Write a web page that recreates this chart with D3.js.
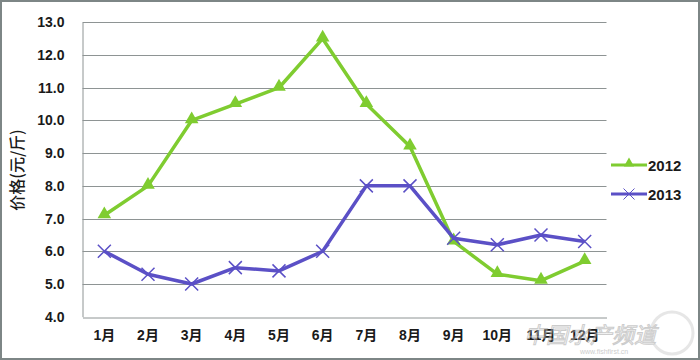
<!DOCTYPE html>
<html><head><meta charset="utf-8">
<script src="https://cdn.jsdelivr.net/npm/d3@7/dist/d3.min.js"></script>
<style>body{margin:0;background:#fff;}svg{display:block;}</style>
</head><body>
<svg id="c" width="700" height="360"></svg>
<script>
const months = ["1月","2月","3月","4月","5月","6月","7月","8月","9月","10月","11月","12月"];
const values2012 = [7.1, 8.0, 10.0, 10.5, 11.0, 12.5, 10.5, 9.2, 6.3, 5.3, 5.1, 5.7];
const values2013 = [6.0, 5.3, 5.0, 5.5, 5.4, 6.0, 8.0, 8.0, 6.4, 6.2, 6.5, 6.3];
const yTicks = [4, 5, 6, 7, 8, 9, 10, 11, 12, 13];
const seriesNames = ["2012", "2013"];
const yTitle = "价格(元/斤)";

const svg = d3.select("#c");
const W = 700, H = 360;
const pLeft = 82.5, pRight = 606.5, pTop = 22.3, pBottom = 316.7;
const font = "'Liberation Sans', Arial, 'Noto Sans CJK SC', sans-serif";

svg.append("rect").attr("x",1).attr("y",1).attr("width",W-2).attr("height",H-2)
  .attr("fill","#fff").attr("stroke","#7d8686").attr("stroke-width",2);

const x = d3.scaleBand().domain(months).range([pLeft, pRight]);
const y = d3.scaleLinear().domain([4, 13]).range([pBottom, pTop]);

// gridlines
svg.append("g").selectAll("line").data(yTicks.filter(d => d > 4)).join("line")
  .attr("x1", pLeft).attr("x2", pRight)
  .attr("y1", d => Math.round(y(d)) + 0.5).attr("y2", d => Math.round(y(d)) + 0.5)
  .attr("stroke", "#8e9494").attr("stroke-width", 1);

// axes
const yAxis = svg.append("g").attr("transform", `translate(${pLeft},0)`)
  .call(d3.axisLeft(y).tickValues(yTicks).tickFormat(d3.format(".1f")).tickSize(0).tickPadding(18));
yAxis.select(".domain").attr("stroke", "#8e9494");
yAxis.selectAll("text").attr("font-family", font).attr("font-size", 14).attr("font-weight", "bold").attr("fill", "#1a1a1a");

const xAxis = svg.append("g").attr("transform", `translate(0,${Math.round(pBottom)+0.5})`)
  .call(d3.axisBottom(x).tickSize(0).tickPadding(13));
xAxis.select(".domain").attr("stroke", "#8e9494");
xAxis.selectAll("text").attr("font-family", font).attr("font-size", 14).attr("font-weight", "bold").attr("fill", "#1a1a1a");

svg.append("text").attr("transform", `translate(23,170) rotate(-90)`)
  .attr("text-anchor", "middle").attr("font-family", "'Noto Sans CJK SC', sans-serif")
  .attr("font-size", 16).attr("font-weight", 500).attr("fill", "#1a1a1a").text(yTitle);

const cx = (d, i) => x(months[i]) + x.bandwidth() / 2;
const line = d3.line().x(cx).y(d => y(d));

const green = "#7fcc30", purple = "#5b50c6";

svg.append("path").datum(values2012).attr("d", line).attr("fill", "none")
  .attr("stroke", green).attr("stroke-width", 3.5).attr("stroke-linejoin", "round");
const tri = d3.symbol().type(d3.symbolTriangle).size(80);
svg.append("g").selectAll("path").data(values2012).join("path")
  .attr("d", tri).attr("fill", green)
  .attr("transform", (d, i) => `translate(${cx(d, i)},${y(d) - 1})`);

svg.append("path").datum(values2013).attr("d", line).attr("fill", "none")
  .attr("stroke", purple).attr("stroke-width", 3.5).attr("stroke-linejoin", "round");
const xg = svg.append("g");
values2013.forEach((d, i) => {
  const px = cx(d, i), py = y(d), s = 6.5;
  xg.append("path").attr("d", `M${px-s},${py-s}L${px+s},${py+s}M${px-s},${py+s}L${px+s},${py-s}`)
    .attr("stroke", purple).attr("stroke-width", 1.5);
});

// legend
const lg = svg.append("g");
const legY = [165, 194];
const triSmall = d3.symbol().type(d3.symbolTriangle).size(45);
[[green, "tri"], [purple, "x"]].forEach((s, k) => {
  const ly = legY[k];
  lg.append("line").attr("x1", 611).attr("x2", 647).attr("y1", ly).attr("y2", ly)
    .attr("stroke", s[0]).attr("stroke-width", 3);
  if (s[1] === "tri") {
    lg.append("path").attr("d", triSmall).attr("fill", s[0]).attr("transform", `translate(629,${ly - 1.5})`);
  } else {
    const px = 629, py = ly, sz = 5.5;
    lg.append("path").attr("d", `M${px-sz},${py-sz}L${px+sz},${py+sz}M${px-sz},${py+sz}L${px+sz},${py-sz}`)
      .attr("stroke", s[0]).attr("stroke-width", 1);
  }
  lg.append("text").attr("x", 648).attr("y", ly + 5.5).attr("font-family", font)
    .attr("font-size", 15).attr("font-weight", "bold").attr("fill", "#1a1a1a").text(seriesNames[k]);
});

// watermark
const wm = svg.append("g").attr("opacity", 0.5);
wm.append("circle").attr("cx", 672).attr("cy", 333).attr("r", 21).attr("fill", "none").attr("stroke", "#cfcfcf").attr("stroke-width", 3);
wm.append("text").attr("x", 524).attr("y", 343).attr("font-family", "'Noto Sans CJK SC', sans-serif")
  .attr("font-size", 22).attr("font-style", "italic").attr("fill", "#ffffff").attr("stroke", "#9a9a9a").attr("stroke-width", 1)
  .text("中国水产频道");
wm.append("text").attr("x", 580).attr("y", 354).attr("font-family", font)
  .attr("font-size", 7).attr("fill", "#9a9a9a").text("www.fishfirst.cn");
</script>
</body></html>
